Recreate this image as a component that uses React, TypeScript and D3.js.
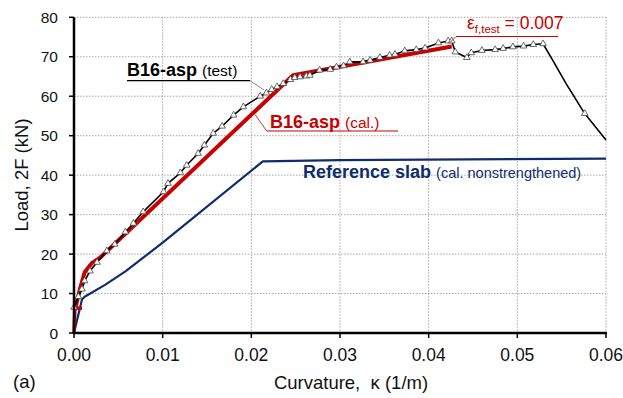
import React from "react";
import * as d3 from "d3";

// Moment–curvature data, curvature κ in 1/m, load 2F in kN
const testK = [0, 0.0005, 0.0009, 0.0012, 0.0018, 0.0026, 0.0037, 0.0046, 0.0058, 0.0067, 0.0078, 0.0101, 0.0106, 0.012, 0.0127, 0.014, 0.0147, 0.0157, 0.0167, 0.018, 0.0191, 0.021, 0.0217, 0.0223, 0.0229, 0.0236, 0.0244, 0.0249, 0.0255, 0.0262, 0.0266, 0.0277, 0.0289, 0.0296, 0.0304, 0.0311, 0.0326, 0.0334, 0.0345, 0.0356, 0.0362, 0.0373, 0.0386, 0.0396, 0.0411, 0.0422, 0.0426, 0.043, 0.0443, 0.0448, 0.046, 0.0475, 0.0484, 0.0495, 0.0507, 0.0518, 0.0529, 0.054, 0.0555, 0.0576, 0.06];
const testF = [6.5, 9.2, 11.1, 13.2, 15.7, 17.9, 20.8, 22.5, 25.6, 27.8, 30.7, 35.8, 37.9, 40.6, 42.5, 45.5, 47.6, 50.6, 52.4, 55.2, 57.3, 60.0, 60.8, 61.7, 62.4, 63.2, 64.2, 64.7, 64.9, 65.1, 65.3, 66.6, 66.8, 67.4, 67.7, 68.7, 68.7, 69.1, 69.8, 70.4, 70.6, 71.5, 71.8, 72.2, 73.5, 74.0, 74.0, 71.2, 69.8, 71.0, 71.6, 71.8, 72.1, 72.5, 72.7, 73.1, 73.3, 69.1, 63.2, 55.6, 48.9];
const testMark = [1, 1, 1, 1, 1, 1, 1, 1, 1, 1, 1, 1, 1, 1, 1, 1, 1, 1, 1, 1, 1, 1, 1, 1, 1, 1, 1, 1, 1, 1, 1, 1, 1, 1, 1, 1, 1, 1, 1, 1, 1, 1, 1, 1, 1, 1, 1, 1, 1, 1, 1, 1, 1, 1, 1, 1, 1, 0, 0, 1, 0];

const calCrackK = [0, 0.0001, 0.0009];
const calCrackF = [0, 6.3, 6.3];
const calK = [0.0001, 0.0007, 0.0012, 0.002, 0.0029, 0.0247, 0.0426];
const calF = [5.8, 11.4, 15.4, 17.7, 19.0, 65.3, 72.6];

const refK = [0, 0.0009, 0.0012, 0.0035, 0.0058, 0.01, 0.0213, 0.03, 0.06];
const refF = [0, 8.5, 9.2, 12.2, 15.6, 22.9, 43.5, 43.8, 44.2];

const xTicks = [0, 0.01, 0.02, 0.03, 0.04, 0.05, 0.06];
const yTicks = [0, 10, 20, 30, 40, 50, 60, 70, 80];

const RED = "#c80000";
const NAVY = "#0f2c6e";
const FONT = "Liberation Sans, Arial, Helvetica, sans-serif";

export default function App() {
  const x = d3.scaleLinear().domain([0, 0.06]).range([74, 606]);
  const y = d3.scaleLinear().domain([0, 80]).range([333, 17.3]);
  const line = d3
    .line<[number, number]>()
    .x((d) => x(d[0]))
    .y((d) => y(d[1]));

  const test: [number, number][] = testK.map((k, i) => [k, testF[i]]);
  const calCrack: [number, number][] = calCrackK.map((k, i) => [k, calCrackF[i]]);
  const cal: [number, number][] = calK.map((k, i) => [k, calF[i]]);
  const ref: [number, number][] = refK.map((k, i) => [k, refF[i]]);
  const tri = d3.symbol().type(d3.symbolTriangle).size(19)();

  return (
    <svg
      width={623}
      height={398}
      style={{ position: "absolute", left: 0, top: 0, background: "#fff" }}
      fontFamily={FONT}
    >
      {/* grid */}
      {xTicks.slice(1).map((t) => (
        <line key={"gx" + t} x1={x(t)} x2={x(t)} y1={y(80)} y2={y(0)} stroke="#a8a8a8" strokeWidth={1} strokeDasharray="1.5,1.5" />
      ))}
      {yTicks.slice(1).map((t) => (
        <line key={"gy" + t} x1={x(0)} x2={x(0.06)} y1={y(t)} y2={y(t)} stroke="#a8a8a8" strokeWidth={1} strokeDasharray="1.5,1.5" />
      ))}

      {/* reference slab */}
      <path d={line(ref) || ""} fill="none" stroke={NAVY} strokeWidth={2.2} strokeLinejoin="round" />
      {/* calculated B16-asp */}
      <path d={line(calCrack) || ""} fill="none" stroke={RED} strokeWidth={3.5} />
      <path d={line(cal) || ""} fill="none" stroke={RED} strokeWidth={4} strokeLinejoin="round" />
      {/* test B16-asp */}
      <path d={line(test) || ""} fill="none" stroke="#000" strokeWidth={1.6} strokeLinejoin="round" />
      {test.map((d, i) =>
        testMark[i] ? (
          <path key={"m" + i} d={tri || ""} transform={`translate(${x(d[0])},${y(d[1])})`} fill="#fff" stroke="#444" strokeWidth={0.8} />
        ) : null
      )}

      {/* axes */}
      <line x1={x(0)} x2={x(0)} y1={y(80)} y2={y(0) + 1} stroke="#000" strokeWidth={2.5} />
      <line x1={x(0) - 1} x2={x(0.06) + 1} y1={y(0)} y2={y(0)} stroke="#000" strokeWidth={2.5} />
      {yTicks.map((t) => (
        <g key={"yt" + t}>
          <line x1={x(0) - 5} x2={x(0)} y1={y(t)} y2={y(t)} stroke="#000" strokeWidth={1.5} />
          <text x={58} y={y(t) + 5.5} textAnchor="end" fontSize={15.5} fill="#111">
            {t}
          </text>
        </g>
      ))}
      {xTicks.map((t) => (
        <g key={"xt" + t}>
          <line x1={x(t)} x2={x(t)} y1={y(0)} y2={y(0) + 5} stroke="#000" strokeWidth={1.5} />
          <text x={x(t)} y={360.5} textAnchor="middle" fontSize={17.5} fill="#111">
            {t.toFixed(2)}
          </text>
        </g>
      ))}

      {/* axis titles */}
      <text x={351} y={389} textAnchor="middle" fontSize={18.5} fill="#111">
        Curvature,{"\u00a0\u00a0"}κ (1/m)
      </text>
      <text transform="translate(28,175) rotate(-90)" textAnchor="middle" fontSize={18.5} fill="#111">
        Load, 2F (kN)
      </text>
      <text x={13} y={388} fontSize={18.5} fill="#111">
        (a)
      </text>

      {/* test label */}
      <text x={127} y={75.7} fill="#000">
        <tspan fontWeight="bold" fontSize={18}>B16-asp</tspan>
        <tspan fontSize={15.5} dx={5}>(test)</tspan>
      </text>
      <line x1={127} y1={80.7} x2={250} y2={80.7} stroke="#000" strokeWidth={1.2} />
      <line x1={250} y1={80.7} x2={264} y2={90} stroke="#666" strokeWidth={0.8} />

      {/* calculated label */}
      <text x={270} y={128} fill={RED}>
        <tspan fontWeight="bold" fontSize={18}>B16-asp</tspan>
        <tspan fontSize={15.5} dx={5}>(cal.)</tspan>
      </text>
      <line x1={266.7} y1={131} x2={398} y2={131} stroke={RED} strokeWidth={1.2} />
      <line x1={266.7} y1={131} x2={255} y2={114.5} stroke={RED} strokeWidth={0.8} />

      {/* reference label */}
      <text x={303} y={178.3} fill={NAVY}>
        <tspan fontWeight="bold" fontSize={18}>Reference slab</tspan>
        <tspan fontSize={14.5} dx={5}>(cal. nonstrengthened)</tspan>
      </text>

      {/* rupture strain label */}
      <text x={467} y={29} fill={RED} fontSize={17.5}>
        <tspan>ε</tspan>
        <tspan fontSize={11.5} dy={3.5}>f,test</tspan>
        <tspan dy={-3.5}> = 0.007</tspan>
      </text>
      <line x1={456} y1={36.5} x2={558} y2={36.5} stroke={RED} strokeWidth={1.2} />
      <line x1={456} y1={36.5} x2={450} y2={42.5} stroke={RED} strokeWidth={0.8} />
    </svg>
  );
}
